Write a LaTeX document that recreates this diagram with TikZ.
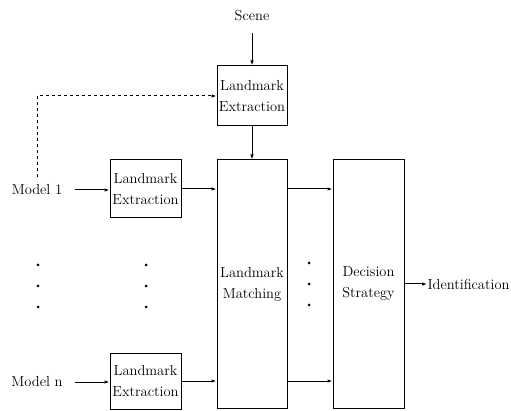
\documentclass[tikz,border=0pt]{standalone}
\usepackage{tikz}
\usetikzlibrary{arrows.meta}

\begin{document}
\begin{tikzpicture}[x=1pt,y=-1pt,
    line width=1pt,
    every node/.style={font=\fontsize{14.5}{21}\selectfont},
    block/.style={draw, align=center, inner sep=0pt},
    feed/.style={-{Latex[length=5pt,width=3.5pt]}}]
        \useasboundingbox (0,0) rectangle (511,411);

        % Nodes
        \node (scene) at (252,16) {Scene};
        \node[block, minimum width=70pt, minimum height=60pt] (topx) at (252,96) {Landmark\\Extraction};
        \node[block, minimum width=70pt, minimum height=248pt] (match) at (252,284) {Landmark\\Matching};
        \node[block, minimum width=71pt, minimum height=248pt] (decide) at (368.5,284) {Decision\\Strategy};
        \node[block, minimum width=71pt, minimum height=58pt] (ext1) at (145.5,189) {Landmark\\Extraction};
        \node[block, minimum width=71pt, minimum height=56pt] (extn) at (145.5,381) {Landmark\\Extraction};
        \node (model1) at (37,190) {Model 1};
        \node (modeln) at (37,382) {Model n};
        \node[anchor=west, inner sep=0pt] (ident) at (427,284) {Identification};

        % Drawing
        \draw[feed, shorten <=8pt] (scene) -- (topx);
        \draw[feed] (topx) -- (match);
        \draw[feed, dashed, shorten <=4pt] (model1.north) |- (topx.west);
        \draw[feed, shorten <=9pt] (model1.east) -- (model1.east -| ext1.west);
        \draw[feed, shorten <=9pt] (modeln.east) -- (modeln.east -| extn.west);
        \draw[feed] (ext1.east) -- (ext1.east -| match.west);
        \draw[feed] (extn.east) -- (extn.east -| match.west);
        \draw[feed] (ext1.east -| match.east) -- (ext1.east -| decide.west);
        \draw[feed] (extn.east -| match.east) -- (extn.east -| decide.west);
        \draw[feed] (decide.east) -- (ident.west);

        % Dots
        \foreach \y in {265,286,307} {
            \fill (38,\y) circle (1.5pt);
            \fill (146,\y) circle (1.5pt);
        }
        \foreach \y in {263,284,305}
            \fill (309,\y) circle (1.5pt);
    \end{tikzpicture}
\end{document}
